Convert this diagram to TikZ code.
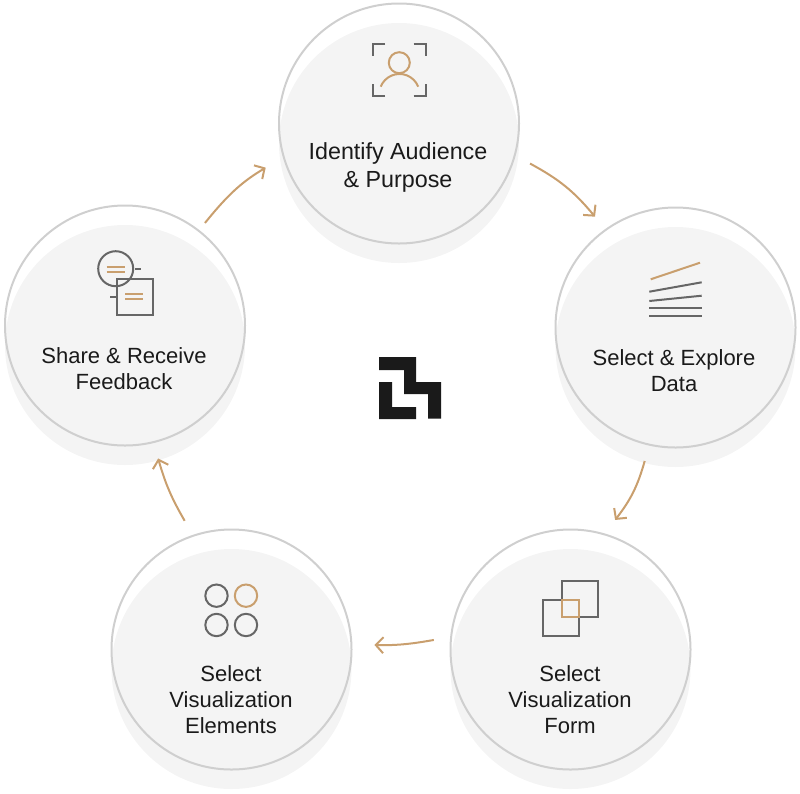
\documentclass[tikz,border=0pt]{standalone}
\usepackage{fontspec}
\setmainfont{Liberation Sans}
\usepackage{xcolor}
\usetikzlibrary{arrows.meta}
\definecolor{ringgray}{HTML}{CFCFCF}
\definecolor{discgray}{HTML}{F4F4F4}
\definecolor{icongray}{HTML}{666666}
\definecolor{tan}{HTML}{C99F6E}
\definecolor{logoblack}{HTML}{1A1A1A}
\tikzset{
  disc/.style  = {circle, fill=discgray, inner sep=0pt, minimum size=240pt},
  ring/.style  = {circle, draw=ringgray, line width=2pt, inner sep=0pt,
                  minimum size=240pt, outer sep=17pt},
  lbl/.style   = {align=center, text=logoblack,
                  font=\fontsize{22}{26}\selectfont},
  lblbig/.style= {align=center, text=logoblack,
                  font=\fontsize{23.3}{28}\selectfont},
  ico/.style   = {draw=icongray, line width=2pt},
  icotan/.style= {draw=tan, line width=2pt},
  arr/.style   = {draw=tan, line width=2pt,
                  -{Straight Barb[length=7.5pt, width=16pt, line width=2pt]}},
}
\begin{document}
\begin{tikzpicture}[x=1pt, y=-1pt]
  \useasboundingbox (0,0) rectangle (800,793);

  \foreach \name/\cx/\cy in {audience/399/123.5, data/675.5/327.5, form/570.5/649.5,
                             elements/231.5/649.5, feedback/125/325.5} {
    \node[disc] (\name back) at (\cx,\cy+19.5) {};
    \node[ring] (\name) at (\cx,\cy) {};
  }

  \node[lblbig] (audiencetxt) at (398,167) {Identify Audience\\ \& Purpose};
  \node[lbl] (datatxt) at (674,371) {Select \& Explore\\ Data};
  \node[lbl] (formtxt) at (570,700) {Select\\ Visualization\\ Form};
  \node[lbl] (elementstxt) at (231,700) {Select\\ Visualization\\ Elements};
  \node[lbl] (feedbacktxt) at (124,369) {Share \& Receive\\ Feedback};

  \draw[arr] (audience.-17.7) to[bend left=11] (data.126.9);
  \draw[arr] (data.-103.7) to[bend left=11] (form.71.1);
  \draw[arr, shorten >=6pt] (form.176.3) to[bend left=6] (elements.2.9);
  \draw[arr] (elements.110) to[bend left=7] (feedback.-76.8);
  \draw[arr, shorten <=-7pt, shorten >=3.5pt] (feedback.52.7) to[bend left=10] (audience.198.6);

  % person
  \draw[ico] (385,43.7) -- (372.7,43.7) -- (372.7,56);
  \draw[ico] (413.5,43.7) -- (425.7,43.7) -- (425.7,56);
  \draw[ico] (385,95.7) -- (372.7,95.7) -- (372.7,83.5);
  \draw[ico] (413.5,95.7) -- (425.7,95.7) -- (425.7,83.5);
  \draw[icotan] (399.3,62.7) circle (10.5);
  \draw[icotan] (380.7,86.7) arc (201.7:338.3:20.2);

  % lines
  \draw[icotan] (650.7,279.3) -- (700,262.7);
  \draw[ico] (649.3,291.7) -- (701.7,282.3);
  \draw[ico] (649.3,301) -- (701.7,295.7);
  \draw[ico] (649,307.7) -- (702,307.7);
  \draw[ico] (649,315.7) -- (702,315.7);

  % squares
  \draw[ico] (562,581.2) rectangle (597.6,617);
  \draw[ico] (543,600) rectangle (578.5,636);
  \draw[icotan] (562,600) rectangle (578.5,617);

  % four circles
  \draw[ico] (216.5,595.7) circle (11.2);
  \draw[icotan] (246,595.7) circle (11.2);
  \draw[ico] (216.5,625) circle (11.2);
  \draw[ico] (246,625) circle (11.2);

  % speech
  \draw[ico] (115.7,268.7) circle (17.5);
  \draw[ico] (135,269) -- (140.7,269);
  \draw[ico] (116.5,278.5) rectangle (152.5,315);
  \draw[ico] (110,296.7) -- (116.5,296.7);
  \draw[icotan] (106.7,266.7) -- (125,266.7);
  \draw[icotan] (106.7,271.7) -- (125,271.7);
  \draw[icotan] (125,294) -- (143.3,294);
  \draw[icotan] (125,299) -- (143.3,299);

  % logo
  \fill[logoblack] (379,357) -- (416,357) -- (416,382) -- (441,382) -- (441,418.5)
    -- (428,418.5) -- (428,394) -- (404,394) -- (404,370) -- (379,370) -- cycle;
  \fill[logoblack] (379,382) -- (392,382) -- (392,407) -- (416,407) -- (416,419)
    -- (379,419) -- cycle;
\end{tikzpicture}
\end{document}
